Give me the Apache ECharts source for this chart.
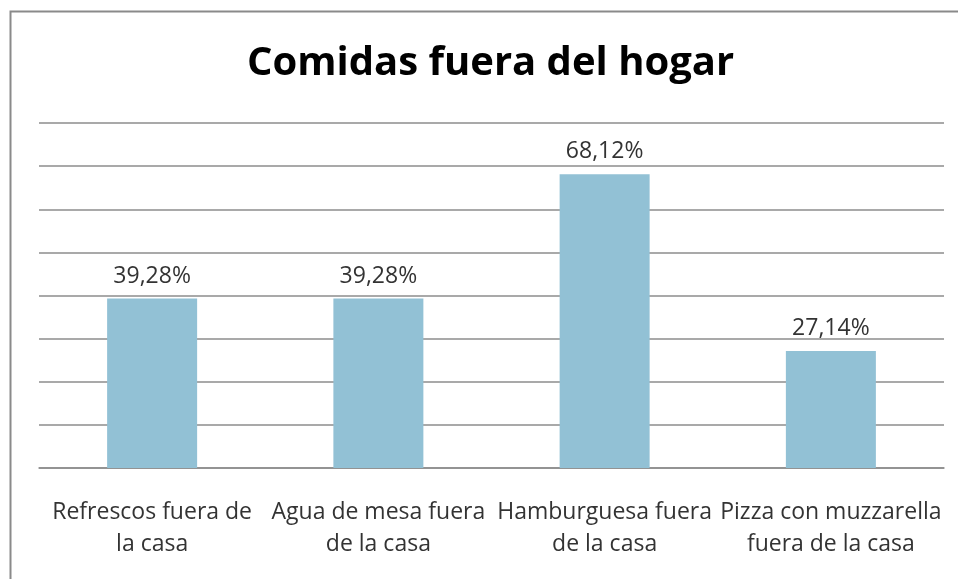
<!DOCTYPE html>
<html>
<head>
<meta charset="utf-8">
<script src="https://cdn.jsdelivr.net/npm/echarts@6/dist/echarts.min.js"></script>
<style>
  html, body { margin: 0; padding: 0; background: #fff; }
  #main { width: 958px; height: 579px; }
</style>
</head>
<body>
<div id="main"></div>
<script>
// datos del gráfico
var categorias = [
    'Refrescos fuera de\nla casa',
    'Agua de mesa fuera\nde la casa',
    'Hamburguesa fuera\nde la casa',
    'Pizza con muzzarella\nfuera de la casa'
];
var porcentajes = [39.28, 39.28, 68.12, 27.14];

var myChart = echarts.init(document.getElementById('main'));
var option = {
    animation: false,
    backgroundColor: '#fff',
    title: {
        text: 'Comidas fuera del hogar',
        left: 242,
        top: 39,
        textStyle: {
            fontFamily: 'Open Sans',
            fontWeight: 'bold',
            fontSize: 40,
            color: '#000'
        }
    },
    graphic: [
        {
            type: 'rect',
            shape: { x: 10.5, y: 11.5, width: 1000, height: 1000 },
            style: { fill: 'none', stroke: '#8a8a8a', lineWidth: 2 },
            silent: true
        }
    ],
    grid: {
        left: 39,
        right: 14,
        top: 123,
        bottom: 111
    },
    xAxis: {
        type: 'category',
        data: categorias,
        axisTick: { show: false },
        axisLine: { show: true, lineStyle: { color: '#8c8c8c', width: 1.5 } },
        axisLabel: {
            interval: 0,
            margin: 28,
            fontFamily: 'Open Sans',
            fontSize: 23,
            lineHeight: 32,
            color: '#333',
            align: 'center'
        }
    },
    yAxis: {
        type: 'value',
        min: 0,
        max: 80,
        interval: 10,
        axisLabel: { show: false },
        axisLine: { show: false },
        axisTick: { show: false },
        splitLine: { lineStyle: { color: '#8c8c8c', width: 1.5 } }
    },
    series: [
        {
            name: 'Comidas',
            type: 'bar',
            data: porcentajes,
            barWidth: 90,
            itemStyle: { color: '#92c1d5' },
            label: {
                show: true,
                position: 'top',
                distance: 11,
                fontFamily: 'Open Sans',
                fontSize: 23,
                color: '#333',
                formatter: function (p) {
                    return p.value.toFixed(2).replace('.', ',') + '%';
                }
            }
        }
    ]
};
myChart.setOption(option);
</script>
</body>
</html>
